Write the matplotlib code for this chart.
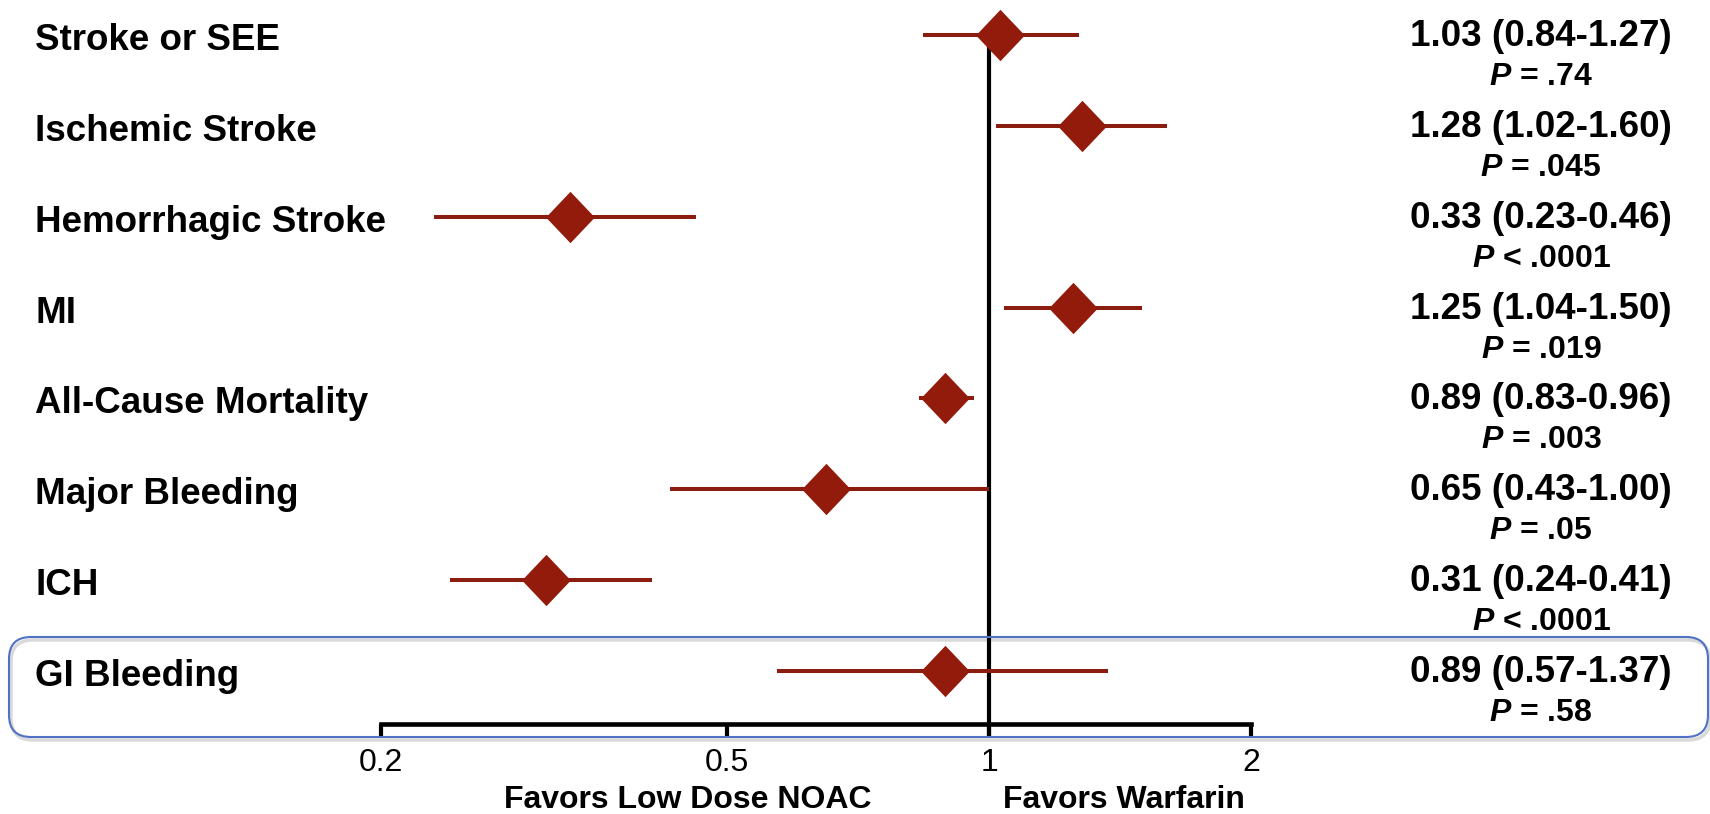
import numpy as np
import matplotlib.pyplot as plt
from matplotlib.patches import FancyBboxPatch
from matplotlib.transforms import IdentityTransform, blended_transform_factory

# Fonts: Arial look-alike, bold italic P through mathtext
plt.rcParams['font.family'] = 'Liberation Sans'
plt.rcParams['mathtext.fontset'] = 'custom'
plt.rcParams['mathtext.it'] = 'Liberation Sans:italic:bold'
plt.rcParams['mathtext.rm'] = 'Liberation Sans:bold'

outcomes = ['Stroke or SEE', 'Ischemic Stroke', 'Hemorrhagic Stroke', 'MI',
            'All-Cause Mortality', 'Major Bleeding', 'ICH', 'GI Bleeding']
hr = [1.03, 1.28, 0.33, 1.25, 0.89, 0.65, 0.31, 0.89]
ci_low = [0.84, 1.02, 0.23, 1.04, 0.83, 0.43, 0.24, 0.57]
ci_high = [1.27, 1.60, 0.46, 1.50, 0.96, 1.00, 0.41, 1.37]
p_text = ['= .74', '= .045', '< .0001', '= .019', '= .003', '= .05', '< .0001', '= .58']
ticks = [0.2, 0.5, 1, 2]
tick_labels = ['0.2', '0.5', '1', '2']

W, H = 1710, 814
fig = plt.figure(figsize=(W / 100, H / 100), dpi=100)
ax = fig.add_axes([0, 0, 1, 1])
ax.set_xscale('log')

# layout in pixels: x = 989 + 870*log10(v), row i centred at 35 + 90.86*i
x0, dec = 989, 870
y0, dy = 35, 90.86
ax.set_xlim(10 ** (-x0 / dec), 10 ** ((W - x0) / dec))
ax.set_ylim((H - y0) / dy, -y0 / dy)
ax.axis('off')


def row(py):
    return (py - y0) / dy


red_line = '#8A1C10'
red_mark = '#931B0B'
rows = np.arange(len(outcomes))

# reference line and bottom scale
ax.vlines(1, 0, row(737), color='black', lw=3.0, zorder=1)
ax.plot([ticks[0], ticks[-1]], [row(724), row(724)], color='black', lw=3.3,
        solid_capstyle='projecting', zorder=1)
ax.vlines(ticks, row(724), row(737), color='black', lw=3.0, zorder=1)
for t, lab in zip(ticks, tick_labels):
    ax.text(t, row(771), lab, ha='center', va='baseline', fontsize=23)

# confidence intervals and point estimates
ax.hlines(rows, ci_low, ci_high, color=red_line, lw=2.9, zorder=2)
diamond = [(0, 1), (0.95, 0), (0, -1), (-0.95, 0), (0, 1)]
ax.plot(hr, rows, ls='none', marker=diamond, ms=37, color=red_mark,
        markeredgewidth=0, zorder=3)

trans = blended_transform_factory(ax.transAxes, ax.transData)
for i in rows:
    ax.text(35 / W, i + 15 / dy, outcomes[i], transform=trans, ha='left',
            va='baseline', fontsize=26.5, fontweight='bold')
    ax.text(1541 / W, i + 11 / dy,
            f'{hr[i]:.2f} ({ci_low[i]:.2f}-{ci_high[i]:.2f})',
            transform=trans, ha='center', va='baseline', fontsize=26.5,
            fontweight='bold')
    ax.text(1541 / W, i + 50 / dy, r'$P$ ' + p_text[i], transform=trans,
            ha='center', va='baseline', fontsize=23, fontweight='bold')

ax.text(504 / W, row(808), 'Favors Low Dose NOAC', transform=trans,
        ha='left', va='baseline', fontsize=23, fontweight='bold')
ax.text(1003 / W, row(808), 'Favors Warfarin', transform=trans,
        ha='left', va='baseline', fontsize=23, fontweight='bold')

# highlight box round the last row
shadow = FancyBboxPatch((11, H - 740), 1699, 100,
                        boxstyle='round,pad=0,rounding_size=22',
                        transform=IdentityTransform(), fill=False,
                        edgecolor='#d9d9d9', lw=2.5, zorder=0)
box = FancyBboxPatch((9, H - 737), 1699, 100,
                     boxstyle='round,pad=0,rounding_size=22',
                     transform=IdentityTransform(), fill=False,
                     edgecolor='#4F72C4', lw=1.5)
fig.add_artist(shadow)
fig.add_artist(box)

fig.savefig('out.png', dpi=100)
